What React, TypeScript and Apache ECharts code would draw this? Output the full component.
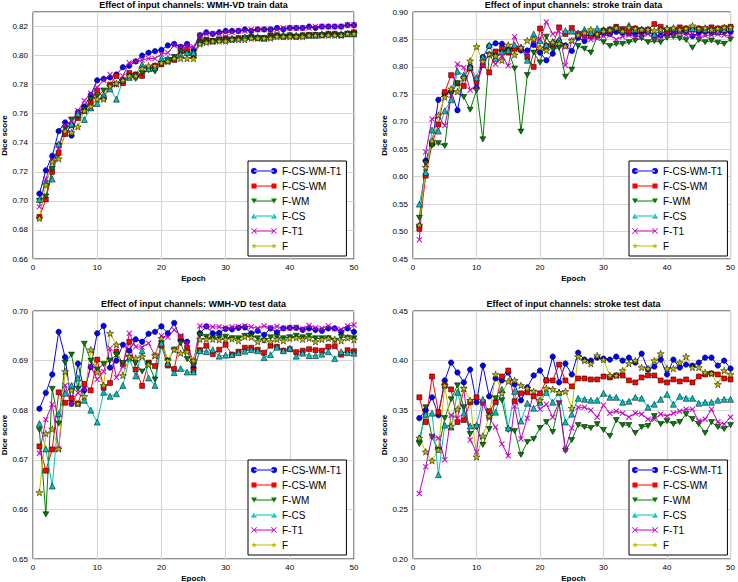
import React, { useEffect, useRef } from 'react';
import * as echarts from 'echarts';

// ---------- data ----------
const epochs = Array.from({ length: 50 }, (_, i) => i + 1);
const seriesNames = ['F-CS-WM-T1', 'F-CS-WM', 'F-WM', 'F-CS', 'F-T1', 'F'];
const panelTitles = [
  'Effect of input channels: WMH-VD train data',
  'Effect of input channels: stroke train data',
  'Effect of input channels: WMH-VD test data',
  'Effect of input channels: stroke test data',
];
const yMins = [0.66, 0.45, 0.65, 0.2];
const yMaxs = [0.83, 0.9, 0.7, 0.45];
const yIntervals = [0.02, 0.05, 0.01, 0.05];

// WMH-VD train
const wmhTrainFCSWMT1 = [0.705,0.721,0.731,0.748,0.754,0.745,0.761,0.765,0.773,0.783,0.784,0.785,0.787,0.792,0.793,0.796,0.800,0.802,0.803,0.804,0.807,0.808,0.806,0.808,0.804,0.814,0.816,0.815,0.816,0.817,0.817,0.817,0.818,0.817,0.818,0.818,0.818,0.819,0.818,0.819,0.819,0.819,0.820,0.819,0.820,0.820,0.820,0.820,0.821,0.821];
const wmhTrainFCSWM = [0.689,0.701,0.720,0.733,0.746,0.752,0.757,0.762,0.768,0.776,0.771,0.780,0.786,0.781,0.788,0.787,0.786,0.791,0.793,0.794,0.796,0.797,0.803,0.804,0.800,0.810,0.811,0.810,0.811,0.812,0.811,0.812,0.812,0.813,0.812,0.812,0.814,0.814,0.813,0.814,0.813,0.814,0.814,0.814,0.814,0.815,0.815,0.814,0.815,0.816];
const wmhTrainFWM = [0.700,0.703,0.722,0.738,0.750,0.756,0.758,0.763,0.770,0.772,0.776,0.778,0.780,0.783,0.786,0.784,0.788,0.790,0.789,0.794,0.797,0.799,0.803,0.801,0.800,0.809,0.810,0.810,0.811,0.811,0.811,0.811,0.812,0.812,0.812,0.812,0.813,0.813,0.813,0.813,0.813,0.813,0.814,0.814,0.814,0.814,0.814,0.814,0.815,0.815];
const wmhTrainFCS = [0.701,0.713,0.715,0.739,0.749,0.753,0.760,0.756,0.764,0.767,0.773,0.777,0.770,0.783,0.785,0.787,0.794,0.791,0.792,0.798,0.798,0.799,0.801,0.802,0.802,0.809,0.810,0.810,0.811,0.811,0.812,0.812,0.813,0.813,0.813,0.812,0.813,0.814,0.814,0.814,0.814,0.814,0.814,0.814,0.815,0.815,0.815,0.815,0.815,0.815];
const wmhTrainFT1 = [0.696,0.715,0.728,0.736,0.752,0.755,0.762,0.769,0.774,0.778,0.783,0.787,0.780,0.786,0.795,0.796,0.797,0.798,0.798,0.801,0.802,0.807,0.806,0.807,0.806,0.814,0.815,0.815,0.815,0.816,0.816,0.817,0.817,0.818,0.818,0.818,0.818,0.818,0.819,0.819,0.819,0.819,0.819,0.820,0.820,0.820,0.820,0.820,0.821,0.821];
const wmhTrainF = [0.688,0.711,0.727,0.729,0.748,0.747,0.751,0.762,0.765,0.770,0.770,0.779,0.781,0.783,0.786,0.786,0.791,0.793,0.793,0.795,0.796,0.798,0.798,0.798,0.798,0.808,0.809,0.810,0.810,0.810,0.811,0.811,0.811,0.812,0.812,0.812,0.812,0.813,0.813,0.813,0.813,0.813,0.814,0.814,0.814,0.814,0.814,0.814,0.815,0.815];

// stroke train
const strokeTrainFCSWMT1 = [0.510,0.629,0.660,0.740,0.752,0.755,0.721,0.781,0.800,0.762,0.818,0.838,0.843,0.842,0.832,0.834,0.830,0.830,0.840,0.826,0.812,0.824,0.847,0.839,0.829,0.853,0.847,0.856,0.858,0.861,0.860,0.864,0.862,0.861,0.860,0.862,0.864,0.857,0.857,0.860,0.862,0.865,0.864,0.856,0.862,0.864,0.862,0.863,0.864,0.864];
const strokeTrainFCSWM = [0.505,0.602,0.660,0.695,0.754,0.785,0.770,0.765,0.797,0.773,0.803,0.790,0.828,0.833,0.826,0.833,0.832,0.818,0.800,0.870,0.838,0.840,0.872,0.860,0.871,0.860,0.858,0.857,0.858,0.866,0.868,0.873,0.869,0.866,0.870,0.867,0.868,0.878,0.873,0.866,0.868,0.872,0.870,0.868,0.870,0.869,0.872,0.870,0.871,0.873];
const strokeTrainFWM = [0.525,0.625,0.657,0.661,0.656,0.752,0.770,0.745,0.722,0.757,0.668,0.822,0.818,0.825,0.830,0.797,0.682,0.785,0.826,0.808,0.855,0.832,0.835,0.782,0.795,0.838,0.833,0.826,0.855,0.845,0.838,0.842,0.842,0.845,0.848,0.852,0.845,0.847,0.845,0.853,0.855,0.852,0.849,0.835,0.849,0.845,0.848,0.844,0.842,0.850];
const strokeTrainFCS = [0.550,0.608,0.685,0.683,0.720,0.740,0.792,0.785,0.800,0.780,0.818,0.840,0.815,0.827,0.830,0.840,0.836,0.812,0.860,0.848,0.840,0.846,0.850,0.866,0.865,0.862,0.868,0.863,0.870,0.868,0.869,0.872,0.866,0.876,0.868,0.869,0.866,0.859,0.867,0.870,0.870,0.866,0.868,0.870,0.869,0.868,0.868,0.865,0.868,0.870];
const strokeTrainFT1 = [0.485,0.645,0.705,0.710,0.693,0.748,0.805,0.799,0.758,0.763,0.805,0.822,0.805,0.820,0.802,0.855,0.832,0.822,0.848,0.850,0.882,0.860,0.865,0.803,0.848,0.860,0.855,0.850,0.852,0.856,0.858,0.850,0.855,0.858,0.855,0.856,0.860,0.853,0.856,0.858,0.860,0.862,0.858,0.860,0.855,0.857,0.858,0.860,0.858,0.857];
const strokeTrainF = [0.512,0.617,0.665,0.712,0.745,0.760,0.755,0.780,0.811,0.837,0.810,0.823,0.820,0.812,0.840,0.822,0.835,0.848,0.851,0.835,0.830,0.845,0.843,0.838,0.848,0.858,0.862,0.868,0.860,0.865,0.867,0.871,0.865,0.872,0.870,0.868,0.868,0.866,0.868,0.870,0.871,0.868,0.870,0.875,0.870,0.871,0.868,0.870,0.872,0.872];

// WMH-VD test
const wmhTestFCSWMT1 = [0.6803,0.6835,0.6872,0.6958,0.6907,0.6813,0.6894,0.6840,0.6887,0.6955,0.6970,0.6886,0.6900,0.6932,0.6920,0.6943,0.6938,0.6954,0.6958,0.6969,0.6955,0.6976,0.6942,0.6938,0.6886,0.6955,0.6969,0.6955,0.6956,0.6964,0.6963,0.6966,0.6967,0.6955,0.6960,0.6952,0.6965,0.6957,0.6965,0.6966,0.6966,0.6962,0.6965,0.6962,0.6960,0.6965,0.6965,0.6958,0.6965,0.6958];
const wmhTestFCSWM = [0.6727,0.6678,0.6721,0.6836,0.6815,0.6824,0.6813,0.6853,0.6840,0.6902,0.6845,0.6855,0.6918,0.6893,0.6938,0.6882,0.6849,0.6896,0.6889,0.6930,0.6890,0.6883,0.6948,0.6925,0.6880,0.6921,0.6930,0.6913,0.6922,0.6932,0.6912,0.6918,0.6926,0.6926,0.6922,0.6916,0.6930,0.6928,0.6920,0.6923,0.6917,0.6920,0.6923,0.6921,0.6920,0.6928,0.6929,0.6912,0.6921,0.6919];
const wmhTestFWM = [0.6760,0.6590,0.6843,0.6773,0.6896,0.6912,0.6843,0.6934,0.6900,0.6882,0.6893,0.6900,0.6912,0.6895,0.6906,0.6895,0.6878,0.6893,0.6862,0.6935,0.6900,0.6922,0.6935,0.6903,0.6890,0.6952,0.6948,0.6945,0.6947,0.6948,0.6945,0.6945,0.6950,0.6950,0.6945,0.6940,0.6947,0.6948,0.6945,0.6947,0.6950,0.6947,0.6950,0.6945,0.6945,0.6945,0.6940,0.6948,0.6946,0.6945];
const wmhTestFCS = [0.6773,0.6722,0.6647,0.6793,0.6834,0.6850,0.6865,0.6820,0.6800,0.6776,0.6836,0.6828,0.6833,0.6850,0.6905,0.6869,0.6920,0.6865,0.6850,0.6935,0.6895,0.6876,0.6884,0.6877,0.6877,0.6920,0.6918,0.6922,0.6909,0.6911,0.6912,0.6916,0.6919,0.6922,0.6920,0.6906,0.6912,0.6927,0.6920,0.6925,0.6909,0.6915,0.6910,0.6910,0.6913,0.6918,0.6904,0.6918,0.6916,0.6915];
const wmhTestFT1 = [0.6713,0.6781,0.6812,0.6722,0.6850,0.6813,0.6835,0.6843,0.6888,0.6862,0.6878,0.6925,0.6866,0.6888,0.6955,0.6928,0.6927,0.6935,0.6910,0.6950,0.6947,0.6962,0.6950,0.6935,0.6895,0.6970,0.6968,0.6968,0.6968,0.6966,0.6968,0.6968,0.6970,0.6968,0.6965,0.6970,0.6966,0.6969,0.6965,0.6966,0.6967,0.6964,0.6971,0.6966,0.6965,0.6970,0.6964,0.6963,0.6970,0.6972];
const wmhTestF = [0.6634,0.6753,0.6762,0.6722,0.6878,0.6840,0.6813,0.6828,0.6922,0.6877,0.6850,0.6955,0.6932,0.6870,0.6908,0.6905,0.6908,0.6892,0.6910,0.6945,0.6900,0.6922,0.6915,0.6918,0.6900,0.6943,0.6943,0.6943,0.6942,0.6943,0.6944,0.6940,0.6948,0.6947,0.6938,0.6942,0.6938,0.6943,0.6940,0.6945,0.6946,0.6943,0.6945,0.6938,0.6943,0.6945,0.6943,0.6940,0.6946,0.6942];

// stroke test
const strokeTestFCSWMT1 = [0.342,0.350,0.363,0.345,0.380,0.398,0.388,0.378,0.391,0.358,0.395,0.364,0.382,0.380,0.388,0.376,0.360,0.373,0.385,0.390,0.380,0.404,0.378,0.397,0.386,0.408,0.401,0.400,0.403,0.402,0.401,0.404,0.400,0.403,0.398,0.407,0.391,0.394,0.401,0.386,0.401,0.393,0.396,0.395,0.398,0.403,0.403,0.395,0.400,0.392];
const strokeTestFCSWM = [0.363,0.338,0.384,0.348,0.375,0.371,0.338,0.340,0.358,0.363,0.358,0.349,0.358,0.384,0.390,0.359,0.367,0.368,0.364,0.367,0.380,0.380,0.396,0.380,0.374,0.382,0.382,0.381,0.381,0.384,0.383,0.385,0.385,0.380,0.378,0.383,0.385,0.385,0.380,0.378,0.381,0.379,0.381,0.378,0.384,0.386,0.387,0.386,0.382,0.381];
const strokeTestFWM = [0.316,0.353,0.323,0.310,0.342,0.361,0.375,0.353,0.326,0.333,0.315,0.331,0.362,0.360,0.330,0.329,0.305,0.318,0.321,0.332,0.338,0.328,0.357,0.309,0.320,0.335,0.333,0.332,0.336,0.330,0.324,0.340,0.335,0.335,0.327,0.333,0.334,0.344,0.336,0.339,0.336,0.338,0.346,0.341,0.336,0.327,0.338,0.333,0.331,0.335];
const strokeTestFCS = [0.322,0.346,0.347,0.285,0.335,0.333,0.368,0.347,0.334,0.335,0.361,0.345,0.348,0.371,0.332,0.369,0.339,0.357,0.352,0.358,0.368,0.358,0.368,0.338,0.346,0.362,0.361,0.360,0.360,0.367,0.363,0.363,0.358,0.359,0.363,0.362,0.353,0.356,0.361,0.366,0.356,0.364,0.362,0.362,0.357,0.358,0.358,0.360,0.361,0.361];
const strokeTestFT1 = [0.266,0.293,0.324,0.322,0.300,0.345,0.342,0.371,0.320,0.308,0.357,0.342,0.333,0.316,0.304,0.354,0.321,0.342,0.368,0.351,0.356,0.343,0.358,0.311,0.332,0.353,0.353,0.350,0.343,0.355,0.347,0.349,0.347,0.343,0.347,0.346,0.341,0.341,0.346,0.344,0.347,0.349,0.351,0.351,0.339,0.341,0.351,0.338,0.336,0.343];
const strokeTestF = [0.322,0.308,0.299,0.310,0.375,0.334,0.351,0.372,0.360,0.303,0.324,0.344,0.386,0.367,0.379,0.380,0.375,0.372,0.369,0.360,0.372,0.371,0.368,0.369,0.352,0.404,0.400,0.397,0.405,0.401,0.385,0.385,0.390,0.397,0.400,0.393,0.392,0.400,0.407,0.392,0.392,0.398,0.404,0.393,0.393,0.388,0.387,0.376,0.390,0.386];

const panelData = [
  [wmhTrainFCSWMT1, wmhTrainFCSWM, wmhTrainFWM, wmhTrainFCS, wmhTrainFT1, wmhTrainF],
  [strokeTrainFCSWMT1, strokeTrainFCSWM, strokeTrainFWM, strokeTrainFCS, strokeTrainFT1, strokeTrainF],
  [wmhTestFCSWMT1, wmhTestFCSWM, wmhTestFWM, wmhTestFCS, wmhTestFT1, wmhTestF],
  [strokeTestFCSWMT1, strokeTestFCSWM, strokeTestFWM, strokeTestFCS, strokeTestFT1, strokeTestF],
];

// ---------- styling ----------
const FONT = 'Liberation Sans, Arial, Helvetica, sans-serif';
const colors = ['#0000ff', '#ff0000', '#008000', '#00bfbf', '#bf00bf', '#bfbf00'];
const grids = [
  { left: 33, top: 12, width: 321, height: 247 },
  { left: 413, top: 12, width: 321, height: 247 },
  { left: 33, top: 311, width: 321, height: 248 },
  { left: 413, top: 311, width: 321, height: 248 },
];
const legendPos = [
  { left: 248, top: 161 },
  { left: 629, top: 161 },
  { left: 248, top: 460 },
  { left: 629, top: 460 },
];

const f = (n: number) => +n.toFixed(3);
function polyPath(pts: number[][], cx: number, cy: number, r: number) {
  return pts
    .map((p, i) => (i === 0 ? 'M' : 'L') + f(cx + p[0] * r) + ',' + f(cy + p[1] * r))
    .join(' ') + ' Z';
}
const starPts: number[][] = [];
for (let k = 0; k < 10; k++) {
  const a = (-90 + k * 36) * Math.PI / 180;
  const rr = k % 2 === 0 ? 1 : 0.4;
  starPts.push([Math.cos(a) * rr, Math.sin(a) * rr]);
}
const crossPts = [[-1, -0.8], [-0.8, -1], [0, -0.2], [0.8, -1], [1, -0.8], [0.2, 0], [1, 0.8], [0.8, 1], [0, 0.2], [-0.8, 1], [-1, 0.8], [-0.2, 0]];
const downPts = [[-1, -0.85], [1, -0.85], [0, 0.85]];
const upPts = [[-1, 0.85], [1, 0.85], [0, -0.85]];
const squarePts = [[-0.85, -0.85], [0.85, -0.85], [0.85, 0.85], [-0.85, 0.85]];

function markerPath(i: number, cx: number, cy: number, r: number) {
  switch (i) {
    case 0:
      return `M${f(cx - r)},${f(cy)} A${r},${r} 0 1 0 ${f(cx + r)},${f(cy)} A${r},${r} 0 1 0 ${f(cx - r)},${f(cy)} Z`;
    case 1: return polyPath(squarePts, cx, cy, r);
    case 2: return polyPath(downPts, cx, cy, r);
    case 3: return polyPath(upPts, cx, cy, r);
    case 4: return polyPath(crossPts, cx, cy, r);
    default: return polyPath(starPts, cx, cy, r);
  }
}
const plotSymbols = [
  'circle',
  'rect',
  'path://' + polyPath(downPts, 5, 5, 5),
  'triangle',
  'path://' + polyPath(crossPts, 5, 5, 5),
  'path://' + polyPath(starPts, 5, 5, 5),
];
const plotSymbolSizes = [5.5, 5, 6, 6, 5.5, 7];
const legendIcons = seriesNames.map((_, i) =>
  'path://M0,0 M26,6 ' + markerPath(i, 3, 3, 3) + ' ' + markerPath(i, 23, 3, 3) + ' M3,2.6 L23,2.6 L23,3.4 L3,3.4 Z'
);

function buildOption() {
  const xAxis: any[] = [];
  const yAxis: any[] = [];
  const series: any[] = [];
  const legend: any[] = [];
  const graphic: any[] = [];

  grids.forEach((g, p) => {
    xAxis.push({
      type: 'value', gridIndex: p, min: 0, max: 50, interval: 10,
      axisLine: { show: false }, axisTick: { show: false },
      axisLabel: { fontSize: 8, color: '#000', fontFamily: FONT, margin: 4 },
      splitLine: { show: true, lineStyle: { color: '#d6d6d6', width: 1.2 } },
    });
    const iv = yIntervals[p];
    yAxis.push({
      type: 'value', gridIndex: p, min: yMins[p], max: yMaxs[p], interval: iv,
      axisLine: { show: false }, axisTick: { show: false },
      axisLabel: {
        fontSize: 8, color: '#000', fontFamily: FONT, margin: 5,
        formatter: (v: number) => (Math.abs(v / iv - Math.round(v / iv)) < 1e-6 ? v.toFixed(2) : ''),
      },
      splitLine: { show: true, lineStyle: { color: '#d6d6d6', width: 1.2 } },
    });
    panelData[p].forEach((vals, i) => {
      series.push({
        type: 'line', name: seriesNames[i], xAxisIndex: p, yAxisIndex: p,
        data: epochs.map((e, k) => [e, vals[k]]),
        symbol: plotSymbols[i], symbolSize: plotSymbolSizes[i], symbolKeepAspect: true,
        showAllSymbol: true,
        lineStyle: { color: colors[i], width: 1 },
        itemStyle: { color: colors[i], borderColor: i === 4 ? colors[i] : '#000', borderWidth: i === 4 ? 0.3 : 0.5 },
        emphasis: { disabled: true }, silent: true,
      });
    });
    legend.push({
      orient: 'vertical', left: legendPos[p].left, top: legendPos[p].top,
      padding: [5, 5, 5, 3], itemGap: 5, itemWidth: 26, itemHeight: 6,
      borderColor: '#000', borderWidth: 1, backgroundColor: '#fff',
      selectedMode: false,
      textStyle: { fontSize: 10, color: '#000', fontFamily: FONT },
      data: seriesNames.map((n, i) => ({ name: n, icon: legendIcons[i], itemStyle: { color: colors[i], borderWidth: 0 } })),
    });
    const cx = g.left + g.width / 2;
    graphic.push({
      type: 'text', x: cx, y: g.top - 7,
      style: { text: panelTitles[p], fontSize: 9, fontWeight: 'bold', fontFamily: FONT, fill: '#000', align: 'center', verticalAlign: 'middle', textAlign: 'center', textVerticalAlign: 'middle' },
    });
    graphic.push({
      type: 'text', x: cx, y: g.top + g.height + 19,
      style: { text: 'Epoch', fontSize: 8, fontWeight: 'bold', fontFamily: FONT, fill: '#000', align: 'center', verticalAlign: 'middle', textAlign: 'center', textVerticalAlign: 'middle' },
    });
    graphic.push({
      type: 'text', x: g.left - 29, y: g.top + g.height / 2, rotation: Math.PI / 2,
      style: { text: 'Dice score', fontSize: 8, fontWeight: 'bold', fontFamily: FONT, fill: '#000', align: 'center', verticalAlign: 'middle', textAlign: 'center', textVerticalAlign: 'middle' },
    });
  });

  return {
    animation: false,
    backgroundColor: '#fff',
    grid: grids.map((g) => ({ ...g, show: true, borderColor: '#222', borderWidth: 1, backgroundColor: 'transparent' })),
    xAxis, yAxis, series, legend, graphic,
  };
}

export default function App() {
  const ref = useRef<HTMLDivElement>(null);
  useEffect(() => {
    if (!ref.current) return;
    const chart = echarts.init(ref.current, undefined, { renderer: 'svg' });
    chart.setOption(buildOption() as any);
    return () => chart.dispose();
  }, []);
  return <div ref={ref} style={{ position: 'fixed', left: 0, top: 0, width: 738, height: 582, background: '#fff' }} />;
}
